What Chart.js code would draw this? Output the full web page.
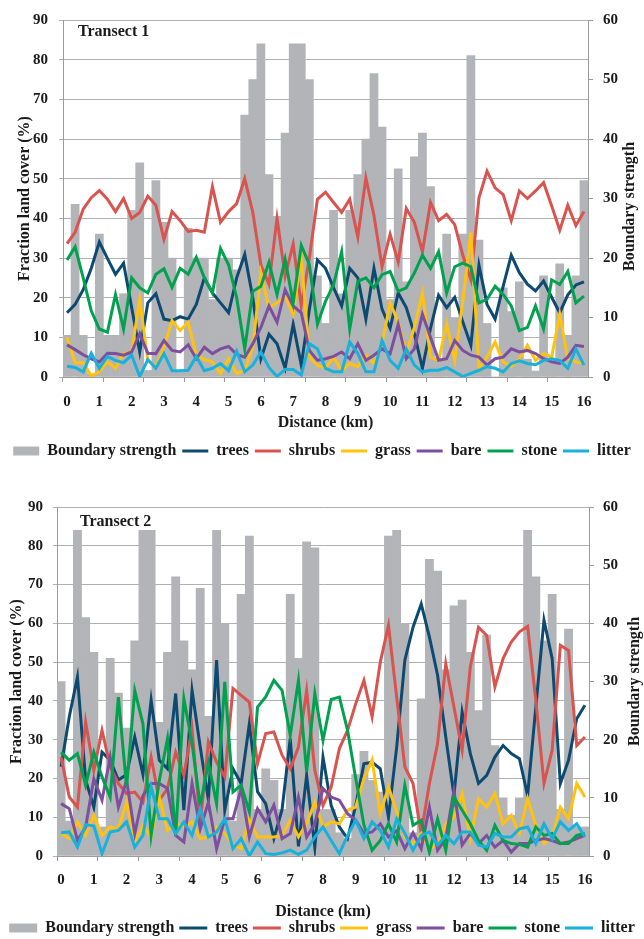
<!DOCTYPE html>
<html>
<head>
<meta charset="utf-8">
<script src="https://cdn.jsdelivr.net/npm/chart.js@4.4.0/dist/chart.umd.min.js"></script>
<style>
body { margin: 0; background: #fff; overflow: hidden; }
canvas { position: absolute; left: 0; }
</style>
</head>
<body>
<canvas id="c1" width="644" height="469" style="top:0px"></canvas>
<canvas id="c2" width="644" height="477" style="top:469px"></canvas>
<script>
// distance along the transect (km), one category per 250 m
var distance = [0,0.25,0.5,0.75,1,1.25,1.5,1.75,2,2.25,2.5,2.75,3,3.25,3.5,3.75,4,4.25,4.5,4.75,5,5.25,5.5,5.75,6,6.25,6.5,6.75,7,7.25,7.5,7.75,8,8.25,8.5,8.75,9,9.25,9.5,9.75,10,10.25,10.5,10.75,11,11.25,11.5,11.75,12,12.25,12.5,12.75,13,13.25,13.5,13.75,14,14.25,14.5,14.75,15,15.25,15.5,15.75,16];

// Transect 1
var boundary1 = [7,29,7,0.5,24,7,7,14,28,36,1.1,33,26,20,1.1,25,20,20,13,20,20,18,44,50,56,34,27,41,56,56,50,17,9,28,14,28,34,40,51,42,13,35,16,37,41,32,3,24,10,24,54,23,9,0,15,11,16,3,1,17,3,19,7,17,33];
var trees1 = [16.2,18.3,22,27.4,34,29.9,25.9,28.7,17.5,6.3,18.7,21,14.6,14.2,15.2,14.6,18.3,25,21.2,18.7,16.2,25,30.9,20,4.6,10.8,8.4,2.2,13.3,3,17,29.5,27.4,22.5,17.9,27.4,25,14.6,27.4,17.1,12.3,21.2,17.5,10.9,2.2,12.3,20.6,17.5,20.1,13.9,8,28.2,18.3,14.6,22.9,30.7,26.3,23.4,21.7,24.2,20.1,16.2,20.7,23.2,24];
var shrubs1 = [33.6,36.5,42.3,45.2,47,44.8,41.7,45,40,41.5,45.6,43.3,34.7,41.7,39.4,36.7,37,36.5,48,39,41.7,43.7,50,41.5,28.3,23.4,40,25.4,33.5,18,30,44.8,46.6,44,41.5,44.8,35.3,50.2,40.7,27.8,36,29,42.5,39,31.6,44,39.4,41,38.4,30.7,24.5,45.2,51.9,47.7,46,39.4,46.9,45,46.9,49,43.2,37,43.3,38.2,41.7];
var grass1 = [10,3.6,3.6,0.3,1.3,3.8,2.2,5.9,6.3,19.5,4.2,2.6,7.5,14.2,11.7,13.8,5.5,4.4,3.8,0.9,4.6,0.9,1.7,7.5,26.2,17.5,18.7,20.4,15.8,30.3,5,3,2.2,5,1.6,3.4,2.6,5.5,3.4,8.4,18.7,13.8,5.9,12.5,21.2,5,4.2,13.3,4.2,19.1,36.5,2.2,5,8.8,3.8,2.6,4.6,8,4.2,5.9,5,15.8,4.6,3.8,3.4];
var bare1 = [8.1,6.9,5.6,4.6,3.8,6,5.9,5.5,6.3,10.9,6,5.9,9.2,6.7,6.3,8.1,4.6,7.5,5.9,7.1,7.7,5.7,5,8.4,12.5,17.9,13.8,22,17.9,16.2,6.7,4.2,4.6,5.2,6.3,4.6,8.4,4.2,5.5,7.1,5.9,13.3,4.6,7.1,15.8,10,4.2,4.6,9.2,6.7,5.5,5,3,4.6,5,7.1,6.3,6.7,5.9,4.6,3.8,3.4,5,8,7.7];
var stone1 = [29.5,32.8,25,16.7,12.1,11.3,20.8,12.1,25,22.5,21.2,25.9,27.3,22.6,27.4,25.9,30.2,25,21.2,32.4,28.3,20,7.1,21.6,22.9,28.9,20.8,29.7,18.7,33.2,28.3,13.3,19.1,23.3,31.6,12.1,24.1,25,22.5,25.8,26.6,21.6,22.5,26.2,30.7,27.4,31.6,21.2,27.8,28.7,27.8,18.7,19.6,22.9,20.8,17.9,11.7,12.5,17.9,12.1,24.5,23.3,26.6,18.7,20.4];
var litter1 = [2.7,2.4,1.3,6,2.2,5.2,4.2,3.6,5.5,0.1,4.4,2.2,5.9,1.6,1.6,1.7,5.2,1.6,2.2,3.4,1.6,6.5,1.3,3,6.3,2.4,0.1,1.9,1.9,0.5,8.4,7.1,2.2,1.3,1.3,8.8,5.9,1.3,1.3,9.2,4.2,2.2,7.1,3,1.3,1.7,1.7,2.4,1.3,0.1,0.9,1.7,2.6,2.2,1.3,3.4,4.1,3.4,3.1,4.2,4.6,4.2,2.2,7.1,3];

// Transect 2
var boundary2 = [30,6,56,41,35,5,34,28,22,37,56,56,23,35,48,37,32,46,24,56,40,6,45,55,8,15,13,8,45,34,54,53,8,8,4,3,14,18,13,11,55,56,40,4,27,51,49,32,43,44,35,25,38,19,10,7,10,56,48,37,45,8,39,5,5];
var trees2 = [23,35.9,46.2,19.6,12.6,26.8,24.7,19.6,21,30.7,21,40.2,24.7,22.5,41.9,11.8,42.7,28.1,14.4,50.5,11.8,22.5,18.7,34.1,16.6,13.5,4.5,12,30.3,2.5,20.8,2.3,25.5,13,7.5,4.5,13,23.8,24.2,22.5,10,28,50.5,59,65,56.5,46.6,30.7,15.6,37.1,26.4,18.7,20.8,25.5,28.5,26.4,25.1,15.6,38.4,60.8,50.9,18.7,24.7,35.4,38.9];
var shrubs2 = [25.5,15.2,12.6,34.6,22.1,32.4,23,18.7,16.1,16.5,13.9,25.5,14.4,17.4,26.8,20.8,32.8,8.3,29.4,24.2,20.4,43.2,41.4,39.7,23.8,31.6,32,26,22.5,28.1,42.7,22.1,13,17.8,27.7,32.4,39.3,45.3,35.9,50,59.5,41,23,18.7,5.8,18.7,29,49.6,38.4,27.3,48.8,59,56.9,43.6,50.9,55.2,57.8,59.2,40.2,18.7,27.3,54.3,53,28.5,30.7];
var grass2 = [5.8,4.5,8.8,5.3,10.5,5.3,7.5,7,13.9,3.6,7.9,4.9,15.2,6.6,8.3,7.5,8.8,4.5,4.9,7.5,5.8,2.8,1.9,9.6,4.9,4.9,4.9,5.3,9.2,4.9,8.3,13.9,7.5,8.8,8.3,11.8,12.6,20,24.8,10.9,17.8,11.4,4.9,3.2,5.8,1.9,2.8,8.3,10,16.1,4.5,14.8,12.6,16.1,8.3,10.5,5.8,14.8,7.9,3.2,4.9,12.6,9.6,18.7,15.2];
var bare2 = [13.5,12.2,4,7.5,19.9,14.4,25.5,12.6,19.5,5.8,15.6,18.7,18.7,17.4,5.3,3.6,18.7,7,13.9,1.9,9.6,9.6,17.4,4.9,12.2,8.8,13.1,4.5,5.8,15.2,4.9,8.3,17.4,15.2,14.4,10.9,9.2,5.8,6.2,8.3,4.9,6.5,1.9,6,1.9,12.6,1.5,4.5,16.9,2.8,5.8,3.2,5.3,2.3,4,1,3.2,3.2,4,4.5,4,3.2,3.6,4.5,5.3];
var stone2 = [26.8,24.7,26.4,18.2,26.8,20.4,15.2,41,17.8,42.7,34.1,5.3,19.5,30.3,5.3,40.6,29,13,24,13.5,44.9,16.5,18.2,11.4,38.4,41,45.3,42.7,31.1,45.3,21.7,41.9,29.8,40.4,41,32.4,20,8,1.5,4,8.3,3.6,18.2,7.9,9.2,1,9.6,1.5,15.2,11.8,8.3,4,1.5,7.9,4,3.2,3,2.3,7.5,5.3,5.8,3.2,3.2,5.3,5.8];
var litter2 = [6,6.2,2.3,8.1,7.7,0.6,6.2,6.6,8.8,2.3,5.3,17.8,9.6,9.6,5.8,8.8,5.3,12.2,4.9,6.2,9.6,1.9,4.5,0,3.6,0.6,0.4,0.8,1.5,0.4,1.5,4.9,7.5,4,0.6,5.3,9.2,4.5,8.8,6.6,2.3,9.6,5.8,1.5,5.3,6.2,2.8,5.3,3.2,6.2,6.2,2.8,2.3,5.8,4.9,4.9,7,7.5,3.2,8.3,4.5,8.8,6.6,8.3,4.9];

var cover = ['trees', 'shrubs', 'grass', 'bare', 'stone', 'litter'];
var coverColors = ['#0d4a72', '#d9534f', '#ffc20e', '#7d4f9e', '#00a24f', '#17b1dc'];

var SERIF = '"Liberation Serif", "Times New Roman", serif';
var GRID = '#b0b0b0';
var AXIS = '#9a9a9a';

function makePanel(id, name, bars, lines, lay) {
    var datasets = [{
        type: 'bar',
        label: 'Boundary strength',
        data: bars,
        yAxisID: 'y2',
        backgroundColor: '#b3b4b7',
        borderWidth: 0,
        barPercentage: 1,
        categoryPercentage: 1,
        pointStyle: 'rect',
        order: 10
    }];
    for (var i = 0; i < cover.length; i++) {
        datasets.push({
            type: 'line',
            label: cover[i],
            data: lines[i],
            yAxisID: 'y',
            borderColor: coverColors[i],
            backgroundColor: coverColors[i],
            borderWidth: 3,
            pointRadius: 0,
            tension: 0,
            fill: false,
            pointStyle: 'line',
            order: 6 - i
        });
    }

    // panel name and rotated axis titles
    var textPlugin = {
        id: 'panelText',
        afterDraw: function(chart) {
            var ctx = chart.ctx, a = chart.chartArea;
            var cy = (a.top + a.bottom) / 2;
            ctx.save();
            ctx.fillStyle = '#1a1a1a';
            ctx.font = 'bold 16px ' + SERIF;
            ctx.textBaseline = 'middle';
            ctx.textAlign = 'left';
            ctx.fillText(name, a.left + lay.nameX, a.top + lay.nameY);
            ctx.textAlign = 'center';
            ctx.save();
            ctx.translate(lay.leftTitleX, cy);
            ctx.rotate(-Math.PI / 2);
            ctx.fillText('Fraction land cover (%)', 0, 0);
            ctx.restore();
            ctx.translate(lay.rightTitleX, cy + lay.rightTitleDy);
            ctx.rotate(-Math.PI / 2);
            ctx.fillText('Boundary strength', 0, 0);
            ctx.restore();
        }
    };

    var tickFont = { family: SERIF, size: 15, weight: 'bold' };

    return new Chart(document.getElementById(id), {
        type: 'bar',
        data: { labels: distance, datasets: datasets },
        options: {
            responsive: false,
            animation: false,
            events: [],
            layout: { padding: { top: lay.top, left: 0, right: 0, bottom: 0 } },
            plugins: {
                tooltip: { enabled: false },
                legend: {
                    position: 'bottom',
                    labels: {
                        usePointStyle: true,
                        pointStyleWidth: lay.boxW,
                        boxHeight: 9,
                        padding: lay.legPad,
                        color: '#1a1a1a',
                        font: { family: SERIF, size: 16, weight: 'bold' },
                        sort: function(a, b) { return a.datasetIndex - b.datasetIndex; }
                    }
                }
            },
            scales: {
                x: {
                    type: 'category',
                    offset: true,
                    grid: {
                        offset: true,
                        drawOnChartArea: false,
                        drawTicks: true,
                        tickLength: 5,
                        color: function(c) { return c.index % 5 === 0 ? AXIS : 'rgba(0,0,0,0)'; }
                    },
                    border: { color: AXIS },
                    ticks: {
                        autoSkip: false,
                        maxRotation: 0,
                        minRotation: 0,
                        padding: lay.xTickPad,
                        color: '#1a1a1a',
                        font: tickFont,
                        callback: function(v, i) {
                            var d = distance[i];
                            return d % 1 === 0 ? String(d) : '';
                        }
                    },
                    title: {
                        display: true,
                        text: 'Distance (km)',
                        color: '#1a1a1a',
                        font: { family: SERIF, size: 16, weight: 'bold' },
                        padding: { top: 0, bottom: lay.xTitlePad }
                    },
                    afterFit: function(s) {
                        var legH = s.chart.legend ? s.chart.legend.height : 0;
                        s.height = s.chart.height - legH - lay.bottom;
                    }
                },
                y: {
                    position: 'left',
                    min: 0,
                    max: 90,
                    ticks: { stepSize: 10, padding: lay.yTickPad, color: '#1a1a1a', font: tickFont },
                    grid: { color: GRID, tickLength: 4 },
                    border: { color: AXIS },
                    afterFit: function(s) { s.width = lay.left; }
                },
                y2: {
                    position: 'right',
                    min: 0,
                    max: 60,
                    ticks: { stepSize: 10, padding: lay.y2TickPad, color: '#1a1a1a', font: tickFont },
                    grid: { drawOnChartArea: false, tickLength: 5, color: AXIS },
                    border: { color: AXIS },
                    afterFit: function(s) { s.width = 644 - lay.right; }
                }
            }
        },
        plugins: [textPlugin]
    });
}

makePanel('c1', 'Transect 1', boundary1,
    [trees1, shrubs1, grass1, bare1, stone1, litter1],
    { top: 15, bottom: 377, left: 63, right: 588, xTickPad: 11, xTitlePad: 5,
      yTickPad: 11, y2TickPad: 10, legPad: 6, boxW: 26,
      nameX: 15, nameY: 12, leftTitleX: 25, rightTitleX: 630, rightTitleDy: 8 });

makePanel('c2', 'Transect 2', boundary2,
    [trees2, shrubs2, grass2, bare2, stone2, litter2],
    { top: 38, bottom: 387, left: 57, right: 589, xTickPad: 10, xTitlePad: -6,
      yTickPad: 10, y2TickPad: 9, legPad: 5, boxW: 28,
      nameX: 23, nameY: 15, leftTitleX: 17, rightTitleX: 635, rightTitleDy: 0 });
</script>
</body>
</html>
